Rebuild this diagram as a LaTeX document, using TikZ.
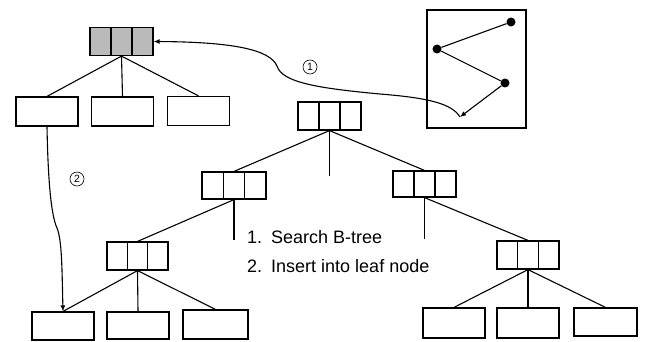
\documentclass[tikz,border=0pt]{standalone}
\usepackage{fontspec}
\setmainfont{Liberation Sans}
\usetikzlibrary{calc,arrows.meta}
\begin{document}
\begin{tikzpicture}[x=1pt,y=-1pt,
  edge/.style={line width=1.1pt},
  keynode/.style={draw, line width=1.2pt, minimum width=63pt, minimum height=28pt, inner sep=0pt,
    path picture={
      \foreach \f in {0.333,0.667}
        \draw[line width=1.2pt]
          ($(path picture bounding box.south west)!\f!(path picture bounding box.south east)$) --
          ($(path picture bounding box.north west)!\f!(path picture bounding box.north east)$);
    }},
  leafbox/.style={draw, line width=1.2pt, minimum width=62pt, minimum height=29pt, inner sep=0pt},
  tag/.style={circle, draw, line width=0.6pt, minimum size=14pt, inner sep=0pt, font=\fontsize{10.5}{10.5}\selectfont},
  dot/.style={circle, fill, minimum size=9pt, inner sep=0pt},
  tip/.style={-{Latex[length=6pt,width=5pt]}},
  caption/.style={anchor=base west, inner sep=0pt, font=\fontsize{18}{18}\selectfont}
]
\useasboundingbox (0,0) rectangle (645,342);

% node found by the search (shaded) and its leaves
\node[keynode, fill=black!27] (hot) at (121.5,41.5) {};
\node[leafbox] (a1) at (47,111.5) {};
\node[leafbox] (a2) at (122.5,111.5) {};
\node[leafbox] (a3) at (198.5,111) {};
\foreach \c in {a1,a2,a3} \draw[edge] (hot.south) -- (\c.north);

% B-tree
\node[keynode] (root) at (329.5,116) {};
\node[keynode, minimum width=64pt, minimum height=27pt] (lc) at (234,185.5) {};
\node[keynode, minimum height=26pt] (rc) at (424.5,184) {};
\node[keynode, minimum width=61pt] (ll) at (137.5,256) {};
\node[keynode, minimum width=62pt] (rr) at (528,255) {};

\node[leafbox, minimum height=28pt] (b1) at (63,326) {};
\node[leafbox, minimum height=27pt] (b2) at (138,325.5) {};
\node[leafbox, minimum width=65pt] (b3) at (215.5,324.5) {};
\node[leafbox, minimum height=30pt] (c1) at (454,323) {};
\node[leafbox, minimum height=30pt] (c2) at (528,323) {};
\node[leafbox, minimum width=63pt, minimum height=28pt] (c3) at (605.5,322) {};

\coordinate (rootstub) at (329.5,176);
\coordinate (lcstub) at (234,240);
\coordinate (rcstub) at (424.5,239);

\draw[edge] (root.south) -- (lc.north);
\draw[edge] (root.south) -- (rootstub);
\draw[edge] (root.south) -- (rc.north);
\draw[edge] (lc.south) -- (ll.north);
\draw[edge] (lc.south) -- (lcstub);
\draw[edge] (rc.south) -- (rcstub);
\draw[edge] (rc.south) -- (rr.north);
\foreach \c in {b1,b2,b3} \draw[edge] (ll.south) -- (\c.north);
\foreach \c in {c1,c2,c3} \draw[edge] (rr.south) -- (\c.north);

% query window with its point sequence
\node[draw, line width=1.2pt, minimum width=99pt, minimum height=118pt, inner sep=0pt] (pane) at (476.5,69) {};
\node[dot] (p1) at (511,22) {};
\node[dot] (p2) at (437,49) {};
\node[dot] (p3) at (505,83) {};
\coordinate (q) at (460,117);
\draw[edge] (p1) -- (p2) -- (p3);
\draw[edge, tip] (p3) -- (q);

% step 1: search
\draw[edge, tip] (q) .. controls (452,104) and (430,98) .. (380,94)
  .. controls (315,88) and (282,82) .. (277,66)
  .. controls (270,50) and (235,42) .. (hot.east);
\node[tag] (t1) at (310,67) {1};

% step 2: insert
\draw[edge, tip] (a1.south) .. controls (48,180) and (51,215) .. (57,228)
  .. controls (62,240) and (62,270) .. (b1.north);
\node[tag] (t2) at (77,179) {2};

\node[caption] (s1) at (247,243) {1.\hspace{0.5em}Search B-tree};
\node[caption] (s2) at (247,272) {2.\hspace{0.5em}Insert into leaf node};
\end{tikzpicture}
\end{document}
